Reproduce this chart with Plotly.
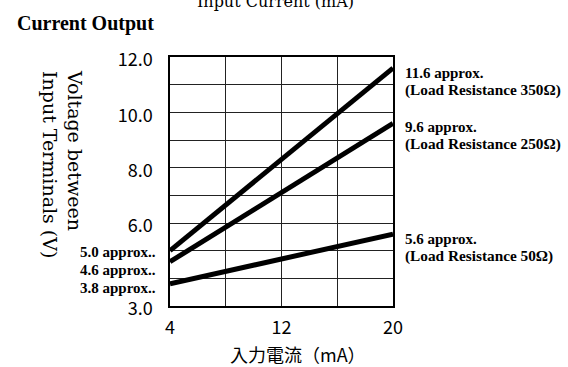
import plotly.graph_objects as go

# Data
x_current = [4, 20]
series_names = ["Load Resistance 350Ω", "Load Resistance 250Ω", "Load Resistance 50Ω"]
v_350 = [5.0, 11.6]
v_250 = [4.6, 9.6]
v_50 = [3.8, 5.6]
y_tickvals = [3, 6, 8, 10, 12]
y_ticktext = ["3.0", "6.0", "8.0", "10.0", "12.0"]
x_tickvals = [4, 12, 20]
x_ticktext = ["4", "12", "20"]
end_labels = [("11.6 approx.", "(Load Resistance 350Ω)"),
              ("9.6 approx.", "(Load Resistance 250Ω)"),
              ("5.6 approx.", "(Load Resistance 50Ω)")]
start_labels = ["5.0 approx..", "4.6 approx..", "3.8 approx.."]

SERIF = "DejaVu Serif"
TIMES = "Liberation Serif"
SANS = "Noto Sans CJK JP"

fig = go.Figure()
for name, ys in zip(series_names, [v_350, v_250, v_50]):
    fig.add_trace(go.Scatter(x=x_current, y=ys, mode="lines", name=name,
                             line=dict(color="black", width=5), showlegend=False))

L, R, T, B = 170, 175, 57, 61
W, H = 568, 367
pw, ph = W - L - R, H - T - B

def px_x(px):
    return (px - L) / pw

def px_y(py):
    return 1 - (py - T) / ph

fig.update_layout(
    width=W, height=H,
    margin=dict(l=L, r=R, t=T, b=B),
    paper_bgcolor="white", plot_bgcolor="white",
    font=dict(family=SANS, color="black"),
    xaxis=dict(range=[4, 20], tickvals=x_tickvals, ticktext=x_ticktext,
               showgrid=True, gridcolor="#222", gridwidth=1.3,
               minor=dict(tickvals=[8, 16], showgrid=True, gridcolor="#222", gridwidth=1.3),
               showline=True, linecolor="black", linewidth=1.5, mirror=True,
               ticks="", zeroline=False, ticklabelstandoff=5,
               tickfont=dict(family=SANS, size=18)),
    yaxis=dict(range=[3, 12], tickvals=y_tickvals, ticktext=y_ticktext,
               showgrid=True, gridcolor="#222", gridwidth=1.3,
               minor=dict(tickvals=[4, 5, 7, 9, 11], showgrid=True, gridcolor="#222", gridwidth=1.3),
               showline=True, linecolor="black", linewidth=1.5, mirror=True,
               ticks="", zeroline=False, ticklabelstandoff=12, ticklabelshift=3,
               tickfont=dict(family=SANS, size=18)),
)

ann = []
ann.append(dict(text="入力電流（mA）", xref="paper", yref="paper",
                x=px_x(298), y=px_y(354), xanchor="center", yanchor="middle",
                showarrow=False, font=dict(family=SANS, size=18)))
# top cut-off title
ann.append(dict(text="Input Current (mA)", xref="paper", yref="paper",
                x=px_x(275), y=px_y(2), xanchor="center", yanchor="middle",
                showarrow=False, font=dict(family=SERIF, size=16)))
ann.append(dict(text="<b>Current Output</b>", xref="paper", yref="paper",
                x=px_x(15), y=px_y(23), xanchor="left", yanchor="middle",
                showarrow=False, font=dict(family=TIMES, size=20)))
ann.append(dict(text="Voltage between<br>Input Terminals (V)", xref="paper", yref="paper",
                x=px_x(63), y=px_y(164), xanchor="center", yanchor="middle",
                textangle=90, showarrow=False, align="left",
                font=dict(family=SERIF, size=19)))
end_py = [(73, 90), (127, 144), (239, 256)]
for (a, b), (p1, p2) in zip(end_labels, end_py):
    ann.append(dict(text="<b>" + a + "</b>", xref="paper", yref="paper", x=px_x(403), y=px_y(p1),
                    xanchor="left", yanchor="middle", showarrow=False,
                    font=dict(family=TIMES, size=15)))
    ann.append(dict(text="<b>" + b + "</b>", xref="paper", yref="paper", x=px_x(403), y=px_y(p2),
                    xanchor="left", yanchor="middle", showarrow=False,
                    font=dict(family=TIMES, size=15.3)))
for t, py in zip(start_labels, [252, 270, 288]):
    ann.append(dict(text="<b>" + t + "</b>", xref="paper", yref="paper", x=px_x(158), y=px_y(py),
                    xanchor="right", yanchor="middle", showarrow=False,
                    font=dict(family=TIMES, size=15)))
fig.update_layout(annotations=ann)

fig.write_html("out.html", config={"displayModeBar": False},
               post_script="document.body.style.margin='0';document.body.style.overflow='hidden';")
